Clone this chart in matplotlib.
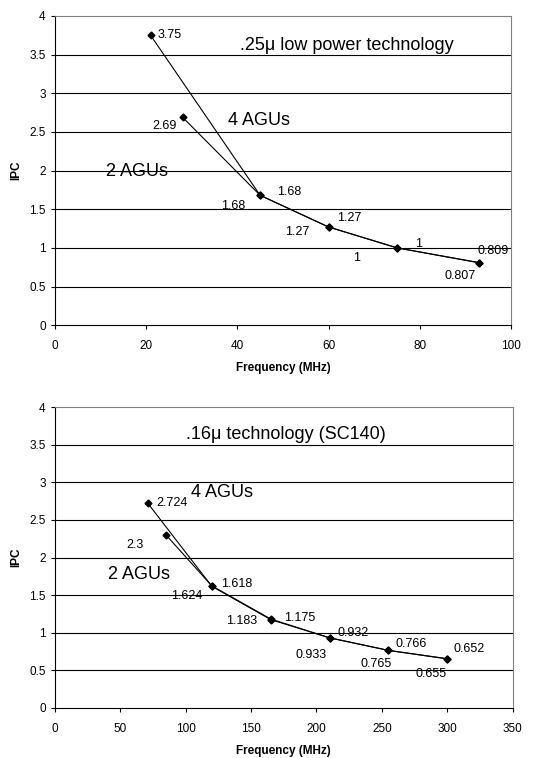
import numpy as np
import matplotlib.pyplot as plt

plt.rcParams['font.family'] = ['Liberation Sans', 'DejaVu Sans']

# .25u low power technology
f1_4 = [21, 45, 60, 75, 93]
ipc1_4 = [3.75, 1.68, 1.27, 1, 0.809]
f1_2 = [28, 45, 60, 75, 93]
ipc1_2 = [2.69, 1.68, 1.27, 1, 0.807]
lab1_4 = ['3.75', '1.68', '1.27', '1', '0.809']
lab1_2 = ['2.69', '1.68', '1.27', '1', '0.807']

# .16u technology (SC140)
f2_4 = [71, 120, 165, 210, 255, 300]
ipc2_4 = [2.724, 1.618, 1.175, 0.932, 0.766, 0.652]
f2_2 = [85, 120, 165, 210, 255, 300]
ipc2_2 = [2.3, 1.624, 1.183, 0.933, 0.765, 0.655]
lab2_4 = ['2.724', '1.618', '1.175', '0.932', '0.766', '0.652']
lab2_2 = ['2.3', '1.624', '1.183', '0.933', '0.765', '0.655']

# label offsets (pixels) and alignment
off1_4 = [(7, 0, 'left'), (17, 3, 'left'), (9, 9, 'left'), (18, 4, 'left'), (14, 12, 'center')]
off1_2 = [(-6, -9, 'right'), (-15, -11, 'right'), (-19, -5, 'right'), (-37, -10, 'right'), (-3, -13, 'right')]
off2_4 = [(9, 0, 'left'), (9, 2, 'left'), (13, 2, 'left'), (8, 5, 'left'), (7, 6, 'left'), (6, 10, 'left')]
off2_2 = [(-22, -10, 'right'), (-9, -10, 'right'), (-13, -2, 'right'), (-3, -17, 'right'), (3, -14, 'right'), (-1, -15, 'right')]

fig = plt.figure(figsize=(5.42, 7.58), dpi=100)
ax1 = fig.add_axes([0.101, 0.571, 0.842, 0.408])
ax2 = fig.add_axes([0.101, 0.066, 0.845, 0.397])


def setup(ax, xmax, xstep):
    ax.set_xlim(0, xmax)
    ax.set_ylim(0, 4)
    ax.set_xticks(np.arange(0, xmax + 1, xstep))
    ax.set_yticks(np.arange(0, 4.01, 0.5))
    ax.set_yticklabels(['0', '0.5', '1', '1.5', '2', '2.5', '3', '3.5', '4'])
    for y in np.arange(0.5, 3.6, 0.5):
        ax.axhline(y, color='black', lw=0.8, zorder=0)
    for s in ['top', 'right']:
        ax.spines[s].set_color('#808080')
    for s in ['left', 'bottom']:
        ax.spines[s].set_color('black')
    ax.tick_params(direction='out', length=3, labelsize=8.5, width=0.8)
    ax.tick_params(axis='x', pad=8)
    ax.set_ylabel('IPC', fontsize=8.5, fontweight='bold', labelpad=5)
    ax.set_xlabel('Frequency (MHz)', fontsize=8.5, fontweight='bold', labelpad=7)


def series(ax, x, y, labs, offs):
    ax.plot(x, y, color='black', lw=0.8, marker='D', ms=3.5)
    for xi, yi, t, (dx, dy, ha) in zip(x, y, labs, offs):
        ax.annotate(t, (xi, yi), xytext=(dx * 0.72, dy * 0.72), textcoords='offset points',
                    ha=ha, va='center', fontsize=9)


setup(ax1, 100, 20)
series(ax1, f1_4, ipc1_4, lab1_4, off1_4)
series(ax1, f1_2, ipc1_2, lab1_2, off1_2)
ax1.text(40.6, 3.62, '.25\u03bc low power technology', fontsize=13, va='center')
ax1.text(37.9, 2.65, '4 AGUs', fontsize=13, va='center')
ax1.text(11.2, 1.99, '2 AGUs', fontsize=13, va='center')

setup(ax2, 350, 50)
series(ax2, f2_4, ipc2_4, lab2_4, off2_4)
series(ax2, f2_2, ipc2_2, lab2_2, off2_2)
ax2.text(100, 3.64, '.16\u03bc technology (SC140)', fontsize=13, va='center')
ax2.text(104, 2.86, '4 AGUs', fontsize=13, va='center')
ax2.text(40.5, 1.78, '2 AGUs', fontsize=13, va='center')

fig.savefig('out.png', dpi=100)
